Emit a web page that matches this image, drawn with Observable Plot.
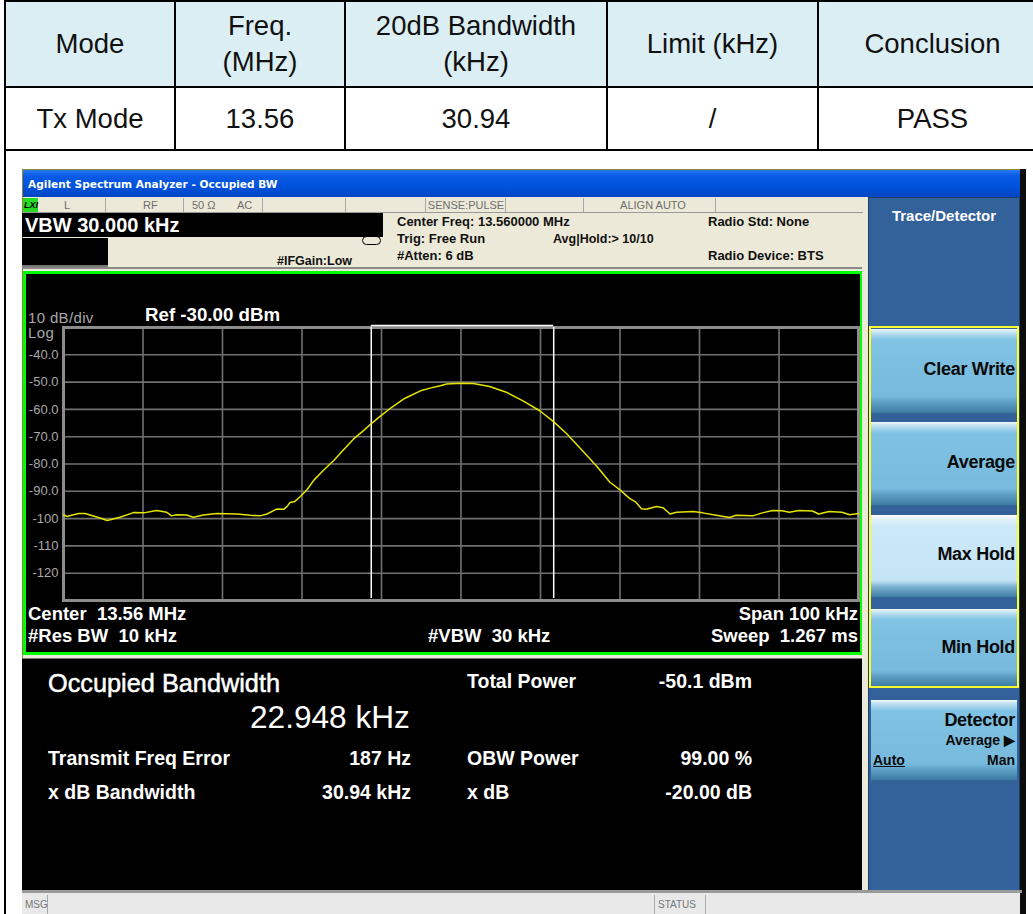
<!DOCTYPE html>
<html><head><meta charset="utf-8">
<script src="https://cdn.jsdelivr.net/npm/d3@7"></script>
<script src="https://cdn.jsdelivr.net/npm/@observablehq/plot@0.6"></script>
<style>
html,body{margin:0;padding:0;}
body{background:#fff;width:1033px;height:914px;overflow:hidden;position:relative;font-family:"Liberation Sans",Arial,sans-serif;}
.a{position:absolute;white-space:nowrap;}
table.res{position:absolute;left:4px;top:0;width:1042px;border-collapse:collapse;table-layout:fixed;}
table.res td{border:2px solid #000;text-align:center;font-size:27.5px;line-height:36px;padding:0;color:#111;}
table.res tr.h td{background:#dbeef4;height:84px;}
table.res tr.d td{height:61px;}
.btn{position:absolute;left:871px;width:146px;background:linear-gradient(to bottom,#f4fafd 0,#c4e3f2 3px,#80c2e3 11px,#77badd 80%,#5c9dc3 88%,#3d7ca3 100%);}
.btn.lt{background:linear-gradient(to bottom,#ffffff 0,#e2f2fb 4px,#cbe8f7 12px,#c4e4f6 80%,#78afcf 88%,#3d7ca3 100%);}
</style></head>
<body>
<table class="res">
<colgroup><col style="width:170px"><col style="width:170px"><col style="width:262px"><col style="width:211px"><col style="width:229px"></colgroup>
<tr class="h"><td>Mode</td><td>Freq.<br>(MHz)</td><td>20dB Bandwidth<br>(kHz)</td><td>Limit (kHz)</td><td>Conclusion</td></tr>
<tr class="d"><td>Tx Mode</td><td>13.56</td><td>30.94</td><td>/</td><td>PASS</td></tr>
</table>
<div class="a" style="left:4px;top:149px;width:2px;height:765px;background:#000"></div>

<!-- analyzer screenshot -->
<div class="a" style="left:22px;top:169px;width:1003px;height:745px;background:#ece9d8;border-top:1px solid #8a8a30;border-left:1px solid #8a8a30;box-sizing:border-box"></div>
<div class="a" style="left:23px;top:170px;width:997px;height:27px;background:linear-gradient(to bottom,#2a78f4 0,#0a5ce6 20%,#0052dc 60%,#0046c4 100%)"></div>
<div class="a" style="left:1020px;top:169px;width:6px;height:745px;background:#0c0c0c"></div>

<div class="a" style="left:23px;top:212px;width:840px;height:1px;background:#9a9a9a"></div>
<div class="a" style="left:22px;top:213px;width:361px;height:24px;background:#000"></div>
<div class="a" style="left:22px;top:238px;width:86px;height:29px;background:#000;border-bottom:2px solid #777;box-sizing:border-box"></div>
<div class="a" style="left:362px;top:236px;width:19px;height:9px;border:1px solid #000;border-radius:5px;box-sizing:border-box"></div>
<div class="a" style="left:22px;top:267px;width:840px;height:2px;background:#8a8a8a"></div>

<div class="a" style="left:868px;top:197px;width:152px;height:694px;background:#33619a;border:1px solid #1f3f6a;box-sizing:border-box"></div>
<div class="btn" style="top:329px;height:84px"></div>
<div class="btn" style="top:422px;height:83px"></div>
<div class="btn lt" style="top:515px;height:82px"></div>
<div class="btn" style="top:609px;height:77px"></div>
<div class="btn" style="top:700px;height:80px"></div>
<div class="a" style="left:869px;top:326px;width:150px;height:362px;border:2px solid #ffff30;box-sizing:border-box"></div>

<div class="a" style="left:23px;top:271px;width:839px;height:384px;border:3px solid #00ff00;background:#000;box-sizing:border-box"></div>
<div id="chart" class="a" style="left:26px;top:274px;width:834px;height:378px"></div>

<div class="a" style="left:22px;top:658px;width:840px;height:232px;background:#000;border-top:1px solid #777"></div>
<div class="a" style="left:22px;top:890px;width:1000px;height:3px;background:#9a9a9a"></div>
<div class="a" style="left:22px;top:893px;width:998px;height:21px;background:#e9e9e9"></div>
<div class="a" style="left:47px;top:895px;width:1px;height:19px;background:#aaa"></div>
<div class="a" style="left:654px;top:895px;width:1px;height:19px;background:#aaa"></div>
<div class="a" style="left:705px;top:895px;width:1px;height:19px;background:#aaa"></div>

<script>
// ---- data (offset from 13.56 MHz centre, kHz) ----
const freqOffsetKHz = [-50,-49.6,-48.1,-47.3,-45.4,-44.5,-42.9,-41.2,-39.9,-38.3,-37.0,-36.4,-35.8,-34.5,-33.7,-32.4,-30.7,-28.2,-26.5,-25.3,-24.4,-23.2,-22.3,-21.9,-21.5,-20.9,-20.2,-19.4,-18.5,-17.3,-16.0,-14.8,-13.5,-12.2,-11.2,-10.1,-8.8,-7.1,-5.1,-3.9,-2.6,-1.8,0,1.55,3.6,5.7,7.8,9.9,11.6,13.3,15.4,17.1,18.7,20.0,21.2,22.0,22.7,23.3,24.6,25.4,26.3,27.1,29.2,30.4,32.1,33.8,34.6,36.7,37.9,39.2,40.4,41.3,42.5,44.2,45.0,46.3,47.9,48.9,50];
const levelDBm = [-98.6,-99.2,-98.1,-98.1,-99.8,-100.7,-99.5,-97.8,-97.9,-97.0,-97.7,-99.0,-98.6,-98.7,-99.5,-98.7,-98.1,-98.3,-98.8,-99.0,-98.3,-96.5,-96.6,-95.6,-94.1,-93.7,-91.9,-89.5,-85.9,-82.3,-78.7,-74.9,-70.8,-67.6,-65.0,-62.4,-59.4,-56.0,-53.2,-52.2,-51.3,-50.7,-50.4,-50.5,-51.6,-53.7,-56.9,-60.5,-64.4,-68.9,-75.5,-80.9,-86.6,-89.5,-92.6,-94.0,-96.4,-96.6,-95.6,-96.0,-98.3,-97.7,-97.4,-97.9,-98.8,-99.6,-98.8,-99.0,-97.9,-97.0,-97.1,-97.7,-97.0,-97.2,-98.3,-97.4,-97.7,-98.6,-98.1];
const xGridKHz = [-40,-30,-20,-10,0,10,20,30,40];
const yTicks = [-40,-50,-60,-70,-80,-90,-100,-110,-120];
const obwEdgesKHz = [-11.287, 11.661];
const refLevel = -30;
const bottomLevel = -130;
const spanKHz = [-50, 50];

const trace = freqOffsetKHz.map((f, i) => ({f, dbm: levelDBm[i]}));

const chart = Plot.plot({
  width: 834, height: 378,
  marginLeft: 37, marginRight: 2, marginTop: 53, marginBottom: 52,
  style: {background: "black", fontFamily: "'Liberation Sans', Arial, sans-serif", fontSize: "13px", color: "#a8a8a8"},
  x: {domain: spanKHz, axis: null},
  y: {domain: [bottomLevel, refLevel], axis: null},
  marks: [
    Plot.gridX(xGridKHz, {stroke: "#707070", strokeOpacity: 1, strokeWidth: 1.6}),
    Plot.gridY(yTicks, {stroke: "#707070", strokeOpacity: 1, strokeWidth: 1.6}),
    Plot.axisY(yTicks, {tickSize: 0, tickPadding: 5, label: null, fill: "#a8a8a8",
      tickFormat: d => d > -100 ? d.toFixed(1) : String(d)}),
    Plot.frame({stroke: "#8c8c8c", strokeWidth: 3}),
    Plot.ruleX(obwEdgesKHz, {y1: bottomLevel, y2: refLevel, stroke: "#ffffff", strokeWidth: 1.5, insetTop: -2}),
    Plot.ruleY([refLevel], {x1: obwEdgesKHz[0], x2: obwEdgesKHz[1], stroke: "#ffffff", strokeWidth: 1.5, dy: -2}),
    Plot.line(trace, {x: "f", y: "dbm", stroke: "#e4e400", strokeWidth: 1.5})
  ]
});
document.getElementById("chart").appendChild(chart);

// ---- screen text ----
const ui = document.body;
function t(txt, x, y, css, anchor, lh) {
  const d = document.createElement("div");
  d.className = "a";
  d.textContent = txt;
  d.style.cssText += ";left:" + x + "px;top:" + y + "px;" + (css || "");
  const tx = anchor === "end" ? "-100%" : anchor === "middle" ? "-50%" : "0";
  d.style.transform = "translate(" + tx + ",-50%)";
  d.style.lineHeight = lh || "1.15";
  ui.appendChild(d);
  return d;
}
const W = "color:#fff;";
const B = "font-weight:bold;";
t("Agilent Spectrum Analyzer - Occupied BW", 28, 184, W + B + "font-family:'DejaVu Sans',sans-serif;font-size:10.6px;");
// status row
const sep = [105,183,262,345,425,505,583,715];
sep.forEach(x => { const d = document.createElement("div"); d.className="a"; d.style.cssText="left:"+x+"px;top:198px;width:1px;height:14px;background:#a8a8a8"; ui.appendChild(d); });
const lxi = document.createElement("div"); lxi.className="a"; lxi.style.cssText="left:23px;top:198px;width:15px;height:14px;background:#22dd22"; ui.appendChild(lxi);
t("LXI", 24, 205, "font-size:9px;font-weight:bold;font-style:italic;color:#000");
const G = "color:#6e6e6e;font-size:11px;";
t("L", 64, 205, G);
t("RF", 143, 205, G);
t("50 Ω", 192, 205, G);
t("AC", 237, 205, G);
t("SENSE:PULSE", 466, 205, G, "middle");
t("ALIGN AUTO", 653, 205, G, "middle");
t("VBW 30.000 kHz", 25, 225, W + B + "font-size:20px;");
t("#IFGain:Low", 277, 261, B + "font-size:12.5px;color:#111");
t("Center Freq: 13.560000 MHz", 397, 222, B + "font-size:13px;color:#111");
t("Trig: Free Run", 397, 239, B + "font-size:13px;color:#111");
t("#Atten: 6 dB", 397, 256, B + "font-size:13px;color:#111");
t("Avg|Hold:> 10/10", 553, 239, B + "font-size:12.5px;color:#111");
t("Radio Std: None", 708, 222, B + "font-size:13px;color:#111");
t("Radio Device: BTS", 708, 256, B + "font-size:13px;color:#111");
t("Trace/Detector", 944, 216, W + B + "font-size:15px;", "middle");
// softkeys
const K = B + "font-size:18px;color:#0a0a0a;letter-spacing:-0.3px;";
t("Clear Write", 1015, 369, K, "end");
t("Average", 1015, 462, K, "end");
t("Max Hold", 1015, 554, K, "end");
t("Min Hold", 1015, 647, K, "end");
t("Detector", 1015, 720, K, "end");
t("Average ▶", 1015, 740, B + "font-size:14px;color:#0a0a0a", "end");
t("Auto", 873, 760, B + "font-size:14px;color:#0a0a0a;text-decoration:underline", );
t("Man", 1015, 760, B + "font-size:14px;color:#0a0a0a", "end");
// plot annotations
t("10 dB/div", 28, 318, "color:#a8a8a8;font-size:15px;letter-spacing:0.35px;", null, "14px");
t("Ref -30.00 dBm", 145, 315, W + B + "font-size:18.7px;");
t("Log", 28, 333, "color:#a8a8a8;font-size:15px;letter-spacing:0.35px;", null, "14px");
t("Center  13.56 MHz", 28, 614, W + B + "font-size:18.5px;white-space:pre;");
t("#Res BW  10 kHz", 28, 636, W + B + "font-size:18.5px;white-space:pre;");
t("#VBW  30 kHz", 428, 636, W + B + "font-size:18.5px;white-space:pre;");
t("Span 100 kHz", 858, 614, W + B + "font-size:18.5px;", "end");
t("Sweep  1.267 ms", 858, 636, W + B + "font-size:18.5px;white-space:pre;", "end");
// results
t("Occupied Bandwidth", 48, 684, W + "font-size:25.3px;-webkit-text-stroke:0.5px #fff;");
t("22.948 kHz", 250, 717, W + "font-size:31.6px;");
const R = W + B + "font-size:19.5px;";
t("Total Power", 467, 681, R);
t("-50.1 dBm", 752, 681, R, "end");
t("Transmit Freq Error", 48, 758, R);
t("187 Hz", 411, 758, R, "end");
t("OBW Power", 467, 758, R);
t("99.00 %", 752, 758, R, "end");
t("x dB Bandwidth", 48, 792, R);
t("30.94 kHz", 411, 792, R, "end");
t("x dB", 467, 792, R);
t("-20.00 dB", 752, 792, R, "end");
t("MSG", 25, 905, "color:#777;font-size:10px;");
t("STATUS", 658, 905, "color:#777;font-size:10px;");
</script>
</body></html>
